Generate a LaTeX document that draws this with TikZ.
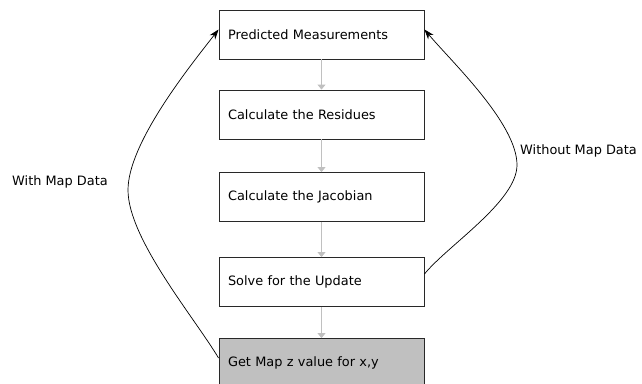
\documentclass[tikz,border=0pt]{standalone}
\usepackage{fontspec}
\setmainfont{DejaVu Sans}
\usetikzlibrary{arrows.meta}
\definecolor{flowgrey}{RGB}{192,192,192}
\definecolor{boxline}{RGB}{40,40,40}
\begin{document}
\begin{tikzpicture}[x=1pt,y=-1pt,
  every node/.style={font=\fontsize{12.9}{15}\selectfont},
  stepbox/.style={draw=boxline, line width=0.9pt, fill=white, rectangle,
    minimum width=205pt, minimum height=49pt, text width=187pt,
    inner xsep=9pt, align=left},
  mapbox/.style={stepbox, fill=flowgrey},
  flow/.style={draw=flowgrey, line width=0.9pt, -{Triangle[length=5pt,width=8pt]}},
  loop/.style={draw=black, line width=0.7pt, -{Stealth[length=10pt,width=7pt]}},
  lbl/.style={anchor=west, inner sep=0pt}]
\useasboundingbox (0,0) rectangle (642,383);
\fill[white] (0,0) rectangle (642,383);

% processing chain
\node[stepbox] (pred) at (321.5,34.5) {Predicted Measurements};
\node[stepbox] (resid) at (321.5,114.5) {Calculate the Residues};
\node[stepbox] (jac) at (321.5,197) {Calculate the Jacobian};
\node[stepbox] (upd) at (321.5,282) {Solve for the Update};
\node[mapbox] (mapz) at (321.5,363) {Get Map z value for x,y};

\draw[flow] (pred) -- (resid);
\draw[flow] (resid) -- (jac);
\draw[flow] (jac) -- (upd);
\draw[flow] (upd) -- (mapz);

% feedback loops
\coordinate (lstart) at ([yshift=5pt]mapz.west);
\coordinate (lend) at ([yshift=5pt]pred.west);
\coordinate (lpeak) at (128,190);
\draw[loop] (lstart) to[out=121,in=-90,looseness=0.65] (lpeak)
  to[out=90,in=232,looseness=0.65] (lend);

\coordinate (rstart) at ([yshift=8pt]upd.east);
\coordinate (rend) at ([yshift=5pt]pred.east);
\coordinate (rpeak) at (517,165);
\draw[loop] (rstart) to[out=51,in=-90,looseness=0.65] (rpeak)
  to[out=90,in=-50,looseness=0.65] (rend);

\node[lbl] (withmap) at (12,182) {With Map Data};
\node[lbl] (withoutmap) at (520,151) {Without Map Data};
\end{tikzpicture}
\end{document}
